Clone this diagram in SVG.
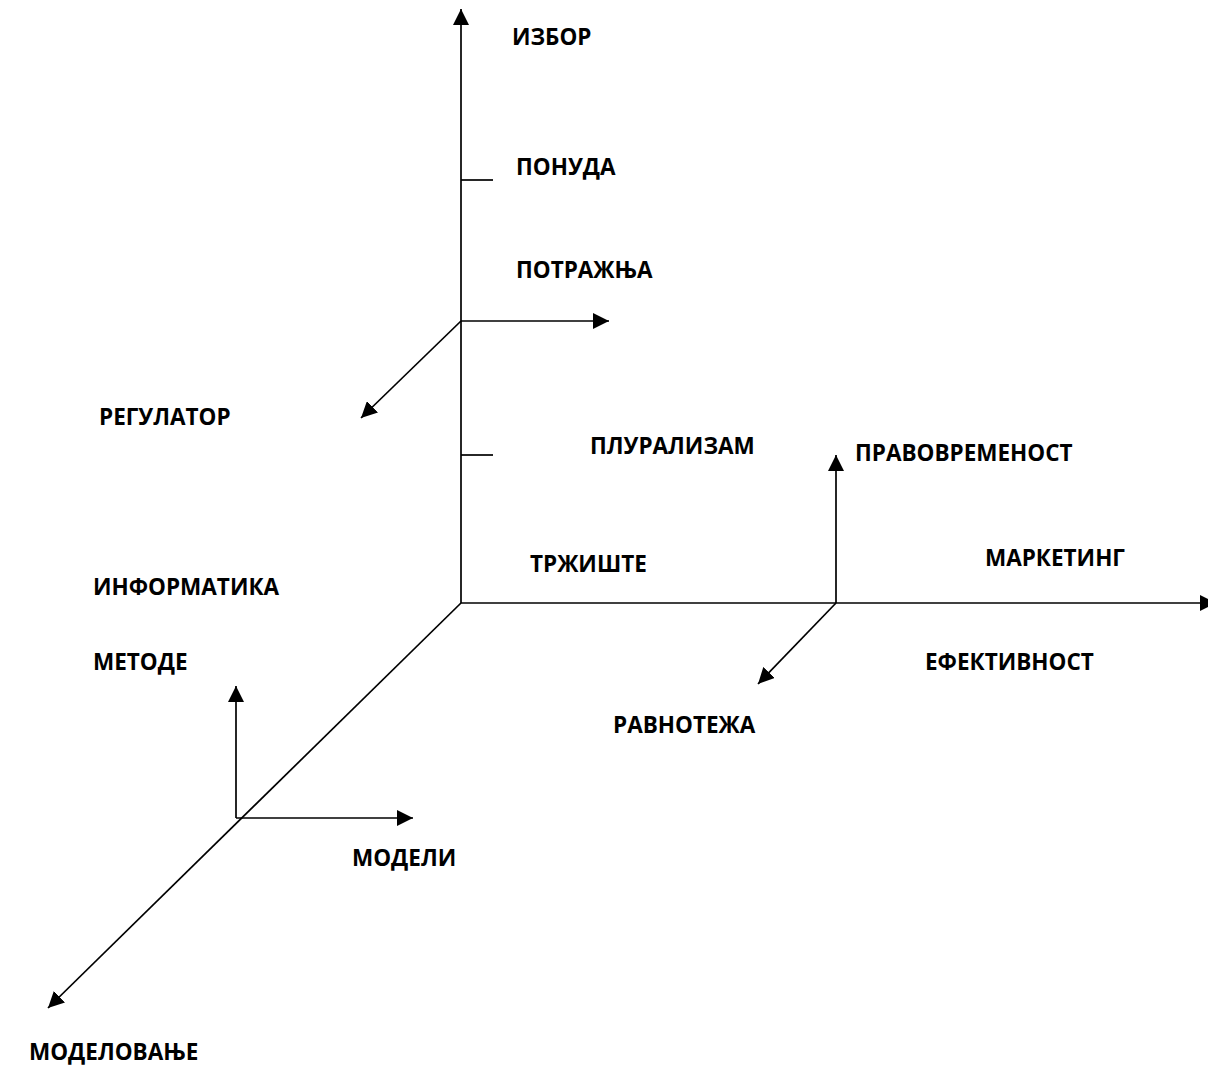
<svg xmlns="http://www.w3.org/2000/svg" width="1208" height="1065" viewBox="0 0 1208 1065">
<style>
.lbl{font-family:"Open Sans","Noto Sans","Liberation Sans",sans-serif;font-weight:bold;font-size:22.5px;fill:#000}
.ln{stroke:#000;stroke-width:1.7;fill:none}
.ar{marker-end:url(#ah)}
</style>
<defs>
<marker id="ah" markerUnits="userSpaceOnUse" markerWidth="17" markerHeight="16" refX="16" refY="8" orient="auto" viewBox="0 0 17 16">
<path d="M0,0 L16,8 L0,16 z" fill="#000"/>
</marker>
</defs>
<rect width="1208" height="1065" fill="#fff"/>
<g id="connectors">
<line class="ln ar" x1="461" y1="603" x2="461" y2="9"/>
<line class="ln" x1="461" y1="180" x2="493" y2="180"/>
<line class="ln" x1="461" y1="455" x2="493" y2="455"/>
<line class="ln ar" x1="461" y1="321" x2="609" y2="321"/>
<line class="ln ar" x1="461" y1="321" x2="361" y2="418"/>
<line class="ln ar" x1="461" y1="603" x2="1216" y2="603"/>
<line class="ln ar" x1="836" y1="603" x2="836" y2="455"/>
<line class="ln ar" x1="836" y1="603" x2="758" y2="684"/>
<line class="ln ar" x1="461" y1="603" x2="48" y2="1008"/>
<line class="ln ar" x1="236" y1="818" x2="236" y2="686"/>
<line class="ln ar" x1="236" y1="818" x2="413" y2="818"/>
</g>
<g id="n-izbor"><text class="lbl" x="512" y="45">ИЗБОР</text></g>
<g id="n-ponuda"><text class="lbl" x="516" y="175">ПОНУДА</text></g>
<g id="n-potraznja"><text class="lbl" x="516" y="278">ПОТРАЖЊА</text></g>
<g id="n-regulator"><text class="lbl" x="99" y="425">РЕГУЛАТОР</text></g>
<g id="n-pluralizam"><text class="lbl" x="590" y="454">ПЛУРАЛИЗАМ</text></g>
<g id="n-pravovremenost"><text class="lbl" x="855" y="461">ПРАВОВРЕМЕНОСТ</text></g>
<g id="n-marketing"><text class="lbl" x="985" y="566">МАРКЕТИНГ</text></g>
<g id="n-trziste"><text class="lbl" x="530" y="572">ТРЖИШТЕ</text></g>
<g id="n-informatika"><text class="lbl" x="93" y="595">ИНФОРМАТИКА</text></g>
<g id="n-metode"><text class="lbl" x="93" y="670">МЕТОДЕ</text></g>
<g id="n-efektivnost"><text class="lbl" x="925" y="670">ЕФЕКТИВНОСТ</text></g>
<g id="n-ravnoteza"><text class="lbl" x="613" y="733">РАВНОТЕЖА</text></g>
<g id="n-modeli"><text class="lbl" x="352" y="866">МОДЕЛИ</text></g>
<g id="n-modelovanje"><text class="lbl" x="29" y="1060">МОДЕЛОВАЊЕ</text></g>
</svg>
